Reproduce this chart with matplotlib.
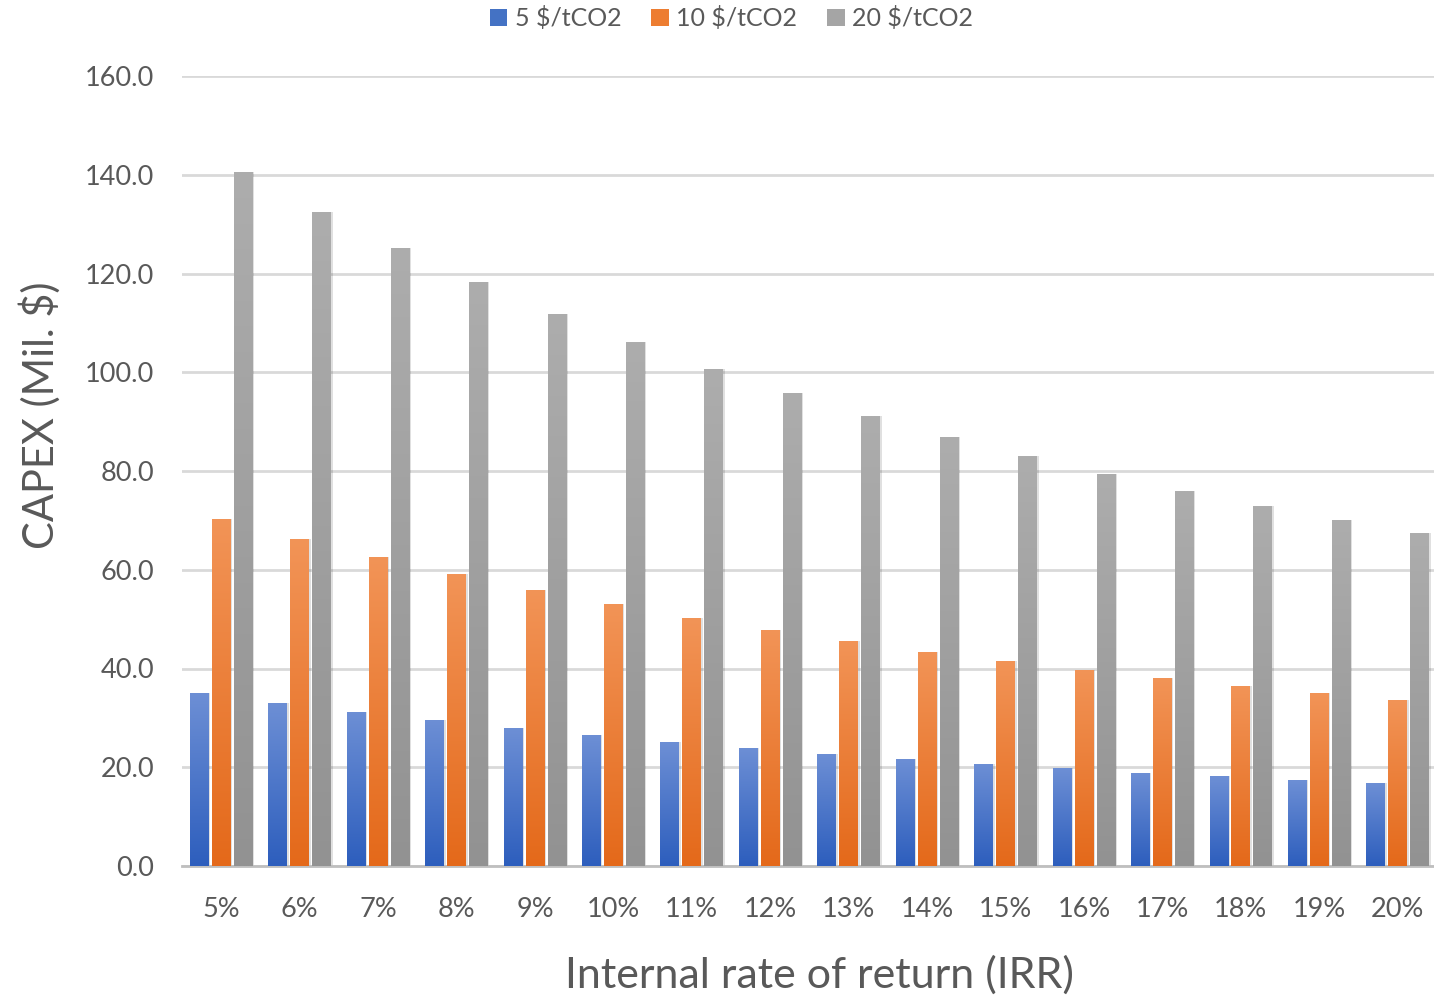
import matplotlib
matplotlib.use("Agg")
import matplotlib.pyplot as plt
import numpy as np
from matplotlib.colors import LinearSegmentedColormap
from matplotlib.patches import Rectangle

categories = ["5%", "6%", "7%", "8%", "9%", "10%", "11%", "12%", "13%", "14%",
              "15%", "16%", "17%", "18%", "19%", "20%"]
s5 = [35.0, 33.0, 31.2, 29.6, 27.9, 26.5, 25.1, 23.9, 22.7, 21.7, 20.7, 19.8, 18.8, 18.2, 17.4, 16.8]
s10 = [70.3, 66.2, 62.6, 59.1, 55.9, 53.1, 50.2, 47.8, 45.6, 43.3, 41.5, 39.7, 38.1, 36.5, 35.0, 33.6]
s20 = [140.6, 132.5, 125.2, 118.3, 111.8, 106.1, 100.7, 95.8, 91.1, 86.9, 83.0, 79.4, 75.9, 72.9, 70.1, 67.4]
series_names = ["5 $/tCO2", "10 $/tCO2", "20 $/tCO2"]
yticks = [0, 20, 40, 60, 80, 100, 120, 140, 160]

colors_top = ["#6d8fd5", "#f29457", "#adadad"]
colors_bot = ["#2d5ebd", "#e4691a", "#929292"]
colors_mid = ["#4472c4", "#ed7d31", "#a5a5a5"]

plt.rcParams['font.family'] = ['Lato', 'DejaVu Sans']
txt = "#595959"

fig = plt.figure(figsize=(14.34, 10.01), dpi=100)
ax = fig.add_axes([182/1434, 1 - 866/1001, (1437-182)/1434, (866-76)/1001])

x = np.arange(len(categories))
w = 0.24
step = 0.28
grad = np.linspace(1, 0, 256).reshape(-1, 1)
for i, (vals, name) in enumerate(zip([s5, s10, s20], series_names)):
    off = (i - 1) * step
    cmap = LinearSegmentedColormap.from_list(f"c{i}", [colors_bot[i], colors_top[i]])
    for xi, v in zip(x + off, vals):
        ax.add_patch(Rectangle((xi - w/2 + 0.02, 0), w, v, facecolor="#000000",
                               alpha=0.12, edgecolor="none", zorder=2))
    bars = ax.bar(x + off, vals, width=w, color=colors_mid[i], label=name, zorder=3)
    for b in bars:
        bx, by = b.get_x(), b.get_y()
        bw, bh = b.get_width(), b.get_height()
        im = ax.imshow(grad, extent=[bx, bx + bw, by, by + bh], aspect="auto",
                       cmap=cmap, vmin=0, vmax=1, zorder=4, interpolation="bilinear")
        im.set_clip_path(b)

ax.set_xlim(-0.5, len(categories) - 0.5)
ax.set_ylim(0, 160)
ax.set_yticks(yticks)
ax.set_yticklabels([f"{v:.1f}" for v in yticks])
ax.set_xticks(x)
ax.set_xticklabels(categories)
ax.grid(axis="y", color="#d9d9d9", linewidth=2, zorder=0)
ax.set_axisbelow(True)
for s in ["top", "right", "left"]:
    ax.spines[s].set_visible(False)
ax.spines["bottom"].set_color("#bfbfbf")
ax.spines["bottom"].set_linewidth(2)
ax.tick_params(axis="both", length=0, labelsize=19.5, colors=txt)
ax.tick_params(axis="x", pad=22)
ax.tick_params(axis="y", pad=20)

ax.set_ylabel("CAPEX (Mil. $)", fontsize=30, color=txt)
ax.yaxis.set_label_coords(-0.097, 0.57)
ax.set_xlabel("Internal rate of return (IRR)", fontsize=31, color=txt)
ax.xaxis.set_label_coords(0.508, -0.113)

handles, labels = ax.get_legend_handles_labels()
leg = fig.legend(handles, labels, loc="upper center", bbox_to_anchor=(0.51, 1.016), ncol=3,
                 frameon=False, fontsize=18, handlelength=0.7, handleheight=0.7,
                 handletextpad=0.3, columnspacing=1.2, labelcolor=txt)

fig.savefig("out.png", dpi=100)
